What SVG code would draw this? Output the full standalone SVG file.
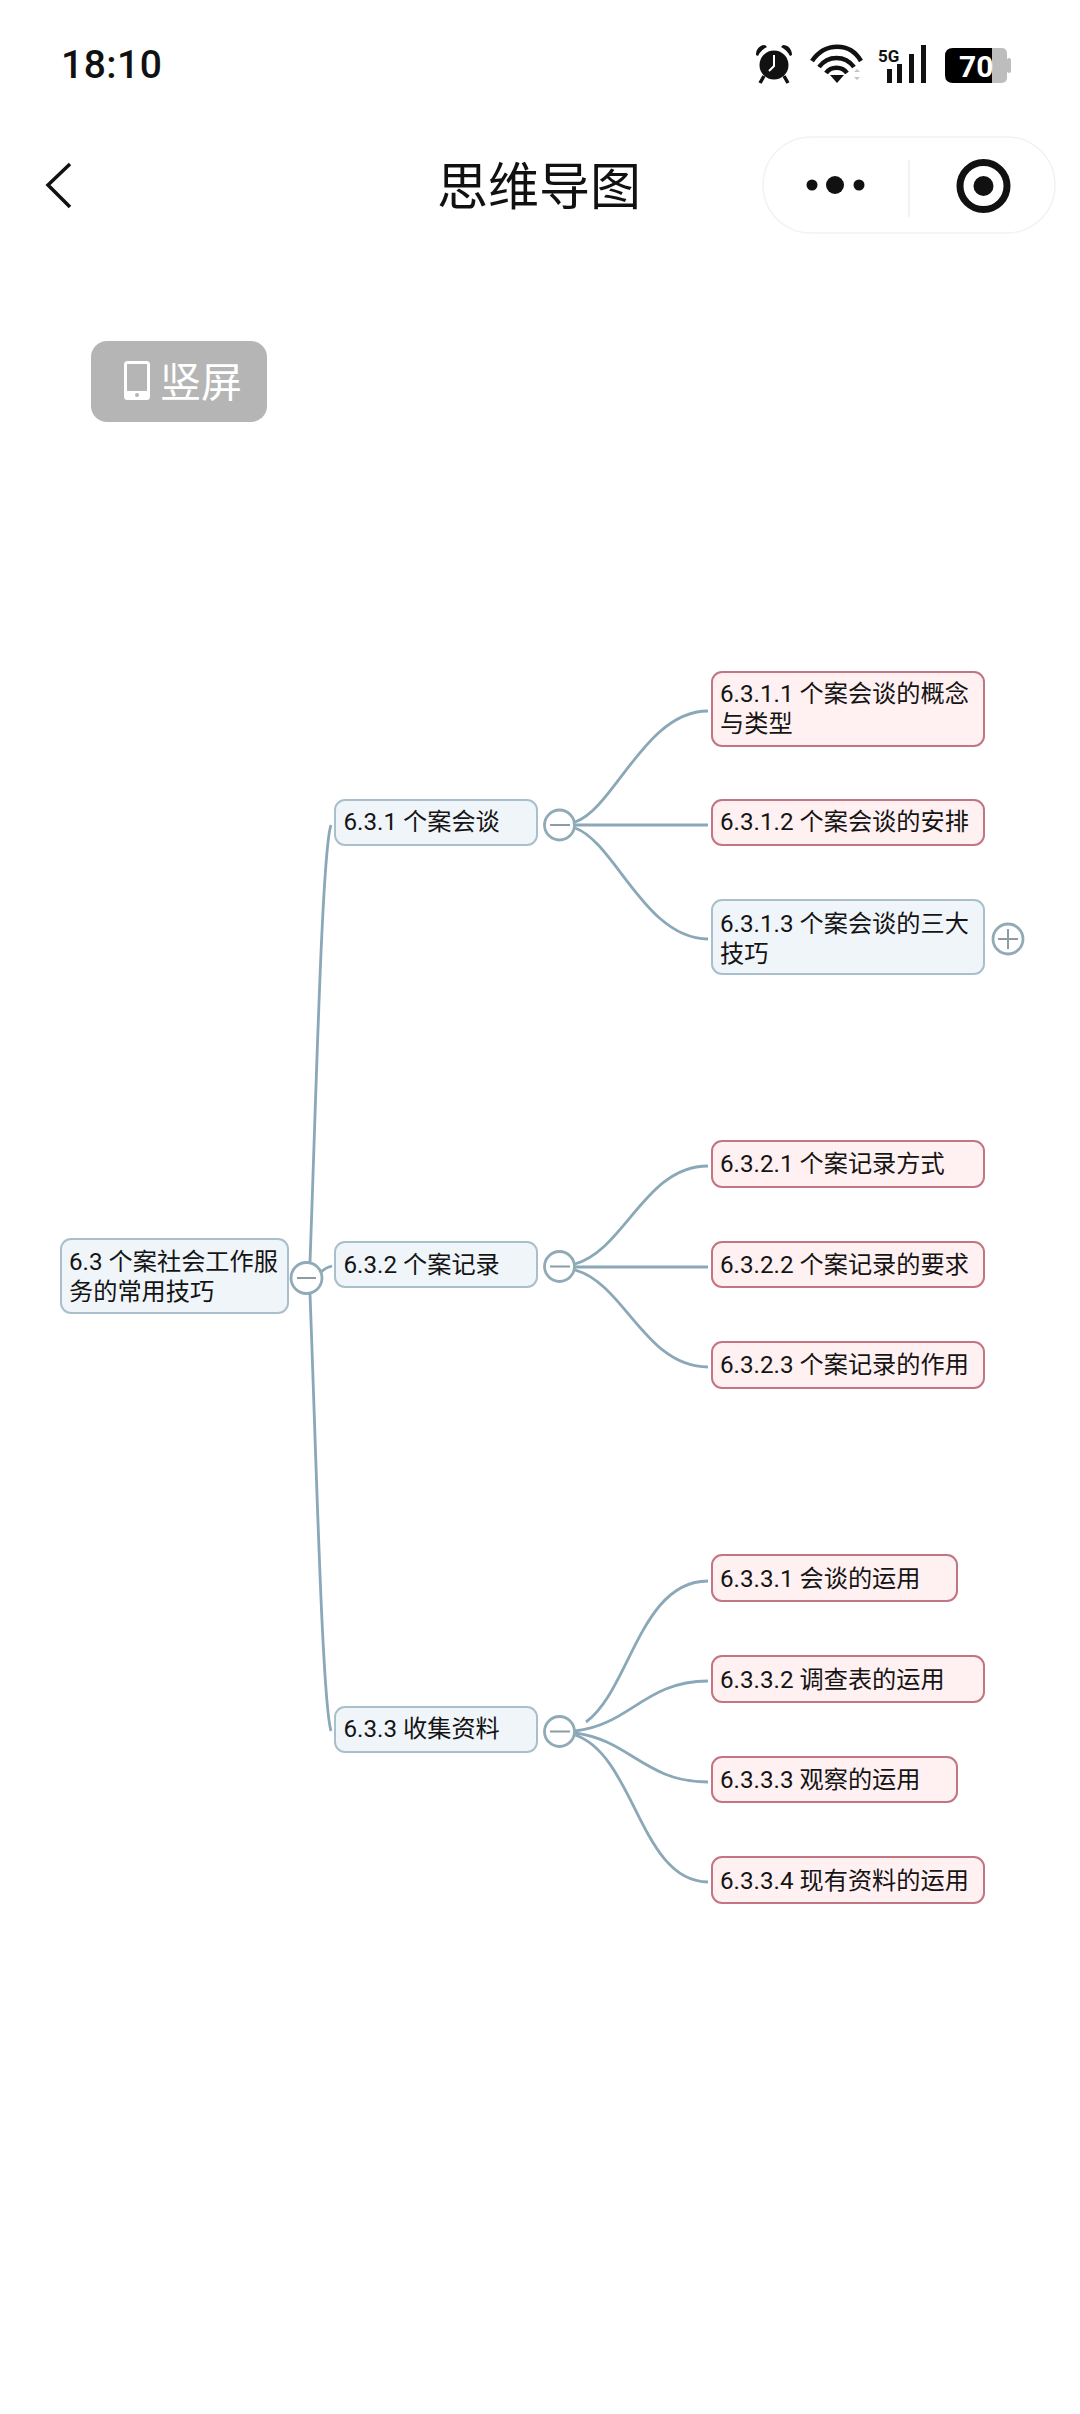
<svg xmlns="http://www.w3.org/2000/svg" width="1080" height="2414" viewBox="0 0 1080 2414">
<defs><style>
text{font-family:"Roboto","Noto Sans CJK SC",sans-serif;fill:#141414;font-size:24.2px}
.blue{fill:#f0f5fa;stroke:#a9c0cc;stroke-width:2}
.pink{fill:#fff0f1;stroke:#c27684;stroke-width:2}
.link{fill:none;stroke:#8aa8b8;stroke-width:2.8}
.tog{fill:#fff;stroke:#90aab6;stroke-width:2.8}
.sym{fill:none;stroke:#8a9ca6;stroke-width:2}
</style></defs>
<rect width="1080" height="2414" fill="#fff"/>
<g id="statusbar">
<text x="61" y="78" style="font-size:39px;font-weight:500;letter-spacing:.5px;fill:#111">18:10</text>
<g id="alarm">
<path d="M756 55 C756 49 760 45 765 45 L767 47 C763 49 760 52 758 56Z M792 55 C792 49 788 45 783 45 L781 47 C785 49 788 52 790 56Z" fill="#111"/>
<circle cx="774" cy="65" r="14.500" fill="#111"/>
<path d="M764 76 L760 83 M784 76 L788 83" stroke="#111" stroke-width="3.500" fill="none"/>
<path d="M774 55 V66 L769 71" stroke="#fff" stroke-width="2" fill="none"/>
</g>
<g id="wifi" fill="none" stroke="#111" stroke-width="4.500">
<path d="M812 61 C825 42 850 42 861 61"/>
<path d="M819 67 C828 55 845 55 854 67"/>
<path d="M826 73 C831 66 842 66 847 73"/>
<path d="M830 75 H844 L837 83Z" fill="#111" stroke="none"/>
</g>
<path d="M854 72 l3 -3 l3 3Z M854 77 l3 3 l3 -3Z" fill="#c4c4c4"/>
<text x="878" y="62" style="font-size:17px;font-weight:700;fill:#111">5G</text>
<g id="signal" fill="#111">
<rect x="887" y="69" width="5" height="14"/>
<rect x="897" y="64" width="5" height="19"/>
<rect x="909" y="54" width="5" height="29"/>
<rect x="921" y="45" width="5" height="38"/>
</g>
<g id="battery">
<rect x="985" y="48" width="22" height="35" rx="5" fill="#bdbdbd"/>
<rect x="1007" y="58" width="4" height="15" rx="2" fill="#bdbdbd"/>
<path d="M953 48 H992 V83 H953 Q945 83 945 75 V56 Q945 48 953 48Z" fill="#000"/>
<text x="959" y="77" style="font-size:30px;font-weight:700;fill:#fff">70</text>
</g>
</g>
<g id="navbar">
<path d="M70 164 L48 185 L70 207" fill="none" stroke="#111" stroke-width="3.500"/>
<text x="539" y="205" text-anchor="middle" style="font-size:51px;fill:#111">思维导图</text>
<rect x="763" y="137" width="292" height="96" rx="48" fill="#fff" stroke="#f2f2f2" stroke-width="1.500"/>
<circle cx="812" cy="185" r="5.500" fill="#111"/><circle cx="835" cy="185" r="9" fill="#111"/><circle cx="859" cy="185" r="5.500" fill="#111"/>
<path d="M909 160 V217" stroke="#eeeeee" stroke-width="1.500"/>
<circle cx="983.500" cy="186" r="23.500" fill="none" stroke="#111" stroke-width="7"/>
<circle cx="983.500" cy="186" r="10" fill="#111"/>
</g>
<g id="orient-button">
<rect x="91" y="341" width="176" height="81" rx="16" fill="#b5b5b5"/>
<rect x="125.500" y="362.500" width="23" height="36" rx="2" fill="none" stroke="#fff" stroke-width="3"/>
<rect x="125" y="391" width="24" height="8" fill="#fff"/><circle cx="137" cy="395" r="2" fill="#b5b5b5"/>
<text x="160" y="397" style="font-size:41px;fill:#fff">竖屏</text>
</g>
<g id="connectors">
<path class="link" d="M310 1262 C316 1100 322 850 331 825"/>
<path class="link" d="M321 1272 C324 1269 328 1267 332 1266"/>
<path class="link" d="M310 1294 C316 1450 322 1700 331 1731"/>
<path class="link" d="M575 822 C615 808 645 711 708 711"/>
<path class="link" d="M575 825 H708"/>
<path class="link" d="M575 828 C615 842 645 939 708 939"/>
<path class="link" d="M575 1264 C625 1250 645 1166 708 1166"/>
<path class="link" d="M575 1267 H708"/>
<path class="link" d="M575 1270 C625 1284 645 1367 708 1367"/>
<path class="link" d="M586 1722 C630 1690 640 1581 708 1581"/>
<path class="link" d="M575 1731 C630 1725 645 1681 708 1681"/>
<path class="link" d="M575 1733 C630 1740 645 1782 708 1782"/>
<path class="link" d="M575 1735 C635 1755 640 1882 708 1882"/>
</g>
<g id="n-root"><rect class="blue" x="61" y="1239" width="227" height="74" rx="10"/><text x="69" y="1270">6.3 个案社会工作服</text><text x="69" y="1300">务的常用技巧</text></g>
<g id="t-root"><circle class="tog" cx="306.500" cy="1278" r="15.500"/><path class="sym" d="M297 1278 H316"/></g>
<g id="n-631"><rect class="blue" x="335" y="800" width="202" height="45" rx="10"/><text x="343.500" y="830">6.3.1 个案会谈</text></g>
<g id="t-631"><circle class="tog" cx="559.500" cy="825" r="15"/><path class="sym" d="M550 825 H570"/></g>
<g id="n-6311"><rect class="pink" x="712" y="672" width="272" height="74" rx="10"/><text x="720" y="702">6.3.1.1 个案会谈的概念</text><text x="720" y="732">与类型</text></g>
<g id="n-6312"><rect class="pink" x="712" y="800" width="272" height="45" rx="10"/><text x="720" y="830">6.3.1.2 个案会谈的安排</text></g>
<g id="n-6313"><rect class="blue" x="712" y="900" width="272" height="74" rx="10"/><text x="720" y="932">6.3.1.3 个案会谈的三大</text><text x="720" y="962">技巧</text></g>
<g id="t-6313"><circle class="tog" cx="1008" cy="939" r="15"/><path class="sym" d="M998 939 H1018 M1008 929 V949"/></g>
<g id="n-632"><rect class="blue" x="335" y="1242" width="202" height="45" rx="10"/><text x="343.500" y="1273">6.3.2 个案记录</text></g>
<g id="t-632"><circle class="tog" cx="559.500" cy="1266.500" r="15"/><path class="sym" d="M550 1266.500 H570"/></g>
<g id="n-6321"><rect class="pink" x="712" y="1141" width="272" height="46" rx="10"/><text x="720" y="1172">6.3.2.1 个案记录方式</text></g>
<g id="n-6322"><rect class="pink" x="712" y="1242" width="272" height="45" rx="10"/><text x="720" y="1273">6.3.2.2 个案记录的要求</text></g>
<g id="n-6323"><rect class="pink" x="712" y="1342" width="272" height="46" rx="10"/><text x="720" y="1373">6.3.2.3 个案记录的作用</text></g>
<g id="n-633"><rect class="blue" x="335" y="1707" width="202" height="45" rx="10"/><text x="343.500" y="1737">6.3.3 收集资料</text></g>
<g id="t-633"><circle class="tog" cx="559.500" cy="1731.500" r="15"/><path class="sym" d="M550 1731.500 H570"/></g>
<g id="n-6331"><rect class="pink" x="712" y="1555" width="245" height="46" rx="10"/><text x="720" y="1587">6.3.3.1 会谈的运用</text></g>
<g id="n-6332"><rect class="pink" x="712" y="1656" width="272" height="46" rx="10"/><text x="720" y="1688">6.3.3.2 调查表的运用</text></g>
<g id="n-6333"><rect class="pink" x="712" y="1757" width="245" height="45" rx="10"/><text x="720" y="1788">6.3.3.3 观察的运用</text></g>
<g id="n-6334"><rect class="pink" x="712" y="1857" width="272" height="46" rx="10"/><text x="720" y="1889">6.3.3.4 现有资料的运用</text></g>
</svg>
